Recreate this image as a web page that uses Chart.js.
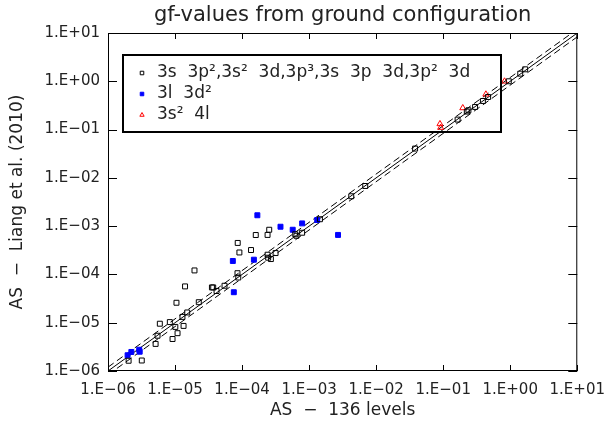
<!DOCTYPE html>
<html>
<head>
<meta charset="utf-8">
<title>gf-values from ground configuration</title>
<script src="https://cdn.jsdelivr.net/npm/chart.js@4.4.0/dist/chart.umd.min.js"></script>
<style>
  body { margin: 0; background: #fff; }
  canvas { display: block; }
</style>
</head>
<body>
<canvas id="gfChart" width="615" height="424"></canvas>
<script>
// axis decades and their labels
const xTicks = [1e-6, 1e-5, 1e-4, 1e-3, 1e-2, 1e-1, 1e0, 1e1];
const xTickLabels = ["1.E−06", "1.E−05", "1.E−04", "1.E−03", "1.E−02", "1.E−01", "1.E+00", "1.E+01"];
const yTicks = [1e-6, 1e-5, 1e-4, 1e-3, 1e-2, 1e-1, 1e0, 1e1];
const yTickLabels = ["1.E−06", "1.E−05", "1.E−04", "1.E−03", "1.E−02", "1.E−01", "1.E+00", "1.E+01"];

// 3s 3p2,3s2 3d,3p3,3s 3p 3d,3p2 3d
const groundX = [2.03e-6, 3.19e-6, 5.13e-6, 5.48e-6, 5.93e-6, 8.36e-6, 9.18e-6, 1.01e-5, 1.09e-5, 1.05e-5,
  1.29e-5, 1.34e-5, 1.41e-5, 1.52e-5, 1.95e-5, 2.26e-5, 3.55e-5, 3.71e-5, 4.16e-5, 5.47e-5,
  8.54e-5, 8.77e-5, 8.61e-5, 9.12e-5, 1.36e-4, 1.60e-4, 2.40e-4, 2.54e-4, 2.40e-4, 2.45e-4,
  2.69e-4, 3.16e-4, 6.21e-4, 6.47e-4, 7.87e-4, 1.45e-3, 4.25e-3, 6.87e-3, 3.81e-2, 0.164,
  0.225, 0.238, 0.299, 0.391, 0.468, 0.951, 1.41, 1.67];
const groundY = [1.63e-6, 1.65e-6, 3.64e-6, 5.38e-6, 9.53e-6, 1.03e-5, 4.60e-6, 8.18e-6, 6.07e-6, 2.59e-5,
  1.32e-5, 8.59e-6, 5.65e-5, 1.63e-5, 1.21e-4, 2.66e-5, 5.38e-5, 5.38e-5, 4.53e-5, 5.83e-5,
  1.06e-4, 8.63e-5, 4.49e-4, 2.85e-4, 3.20e-4, 6.55e-4, 6.58e-4, 8.42e-4, 2.56e-4, 2.22e-4,
  2.08e-4, 2.77e-4, 6.79e-4, 6.32e-4, 7.30e-4, 1.39e-3, 4.16e-3, 6.79e-3, 4.04e-2, 0.161,
  0.236, 0.251, 0.294, 0.391, 0.473, 1.0, 1.44, 1.77];

// 3l 3d2
const d2X = [1.96e-6, 2.23e-6, 2.92e-6, 2.97e-6, 7.28e-5, 7.53e-5, 1.50e-4, 1.69e-4, 3.74e-4, 5.69e-4, 7.87e-4, 1.32e-3, 2.70e-3];
const d2Y = [2.12e-6, 2.48e-6, 2.76e-6, 2.51e-6, 1.90e-4, 4.28e-5, 2.02e-4, 1.68e-3, 9.72e-4, 8.42e-4, 1.14e-3, 1.34e-3, 6.58e-4];

// 3s2 4l
const s4lX = [8.95e-2, 9.16e-2, 0.196, 0.433, 0.822];
const s4lY = [0.131, 0.110, 0.280, 0.538, 1.0];

// y = x and the +/-20% band
const diagX = [1e-6, 1e1];
const diagY = [1e-6, 1e1];
const upperY = [1.2e-6, 12];
const lowerY = [8.33e-7, 8.33];

const seriesLabels = ["3s  3p²,3s²  3d,3p³,3s  3p  3d,3p²  3d", "3l  3d²", "3s²  4l"];

const FONT = "'DejaVu Sans', sans-serif";
const pts = (xs, ys) => xs.map((x, i) => ({ x, y: ys[i] }));

const frameAndLegend = {
  id: "frameAndLegend",
  afterDatasetsDraw(chart) {
    const { ctx, chartArea: a, scales } = chart;
    ctx.save();
    ctx.strokeStyle = "#000";
    ctx.lineWidth = 1;
    ctx.strokeRect(a.left + 0.5, a.top + 0.5, a.right - a.left - 1, a.bottom - a.top - 1);
    ctx.beginPath();
    xTicks.forEach((v) => {
      const px = Math.round(scales.x.getPixelForValue(v)) + 0.5;
      ctx.moveTo(px, a.bottom); ctx.lineTo(px, a.bottom - 6);
      ctx.moveTo(px, a.top); ctx.lineTo(px, a.top + 6);
    });
    yTicks.forEach((v) => {
      const py = Math.round(scales.y.getPixelForValue(v)) + 0.5;
      ctx.moveTo(a.left, py); ctx.lineTo(a.left + 9, py);
      ctx.moveTo(a.right, py); ctx.lineTo(a.right - 9, py);
    });
    ctx.stroke();

    // legend box
    const lx = a.left + 15, ly = a.top + 22;
    ctx.lineWidth = 2;
    ctx.strokeRect(lx, ly, 378, 77);
    ctx.font = "17px " + FONT;
    ctx.textBaseline = "middle";
    chart.data.datasets.slice(0, 3).forEach((ds, i) => {
      const cy = ly + 18 + i * 21;
      ctx.lineWidth = 1;
      ctx.strokeStyle = ds.borderColor;
      ctx.fillStyle = ds.backgroundColor;
      Chart.helpers.drawPoint(ctx, { pointStyle: ds.pointStyle, radius: 2.5, rotation: 0, borderWidth: 1 }, lx + 19, cy);
      ctx.fillStyle = "#222";
      ctx.fillText(ds.label, lx + 34, cy);
    });
    ctx.restore();
  },
};

new Chart(document.getElementById("gfChart"), {
  type: "scatter",
  data: {
    datasets: [
      {
        label: seriesLabels[0],
        data: pts(groundX, groundY),
        pointStyle: "rect",
        radius: 3.5,
        borderWidth: 1,
        borderColor: "#000",
        backgroundColor: "rgba(0,0,0,0)",
      },
      {
        label: seriesLabels[1],
        data: pts(d2X, d2Y),
        pointStyle: "rect",
        radius: 3.5,
        borderWidth: 1,
        borderColor: "#0000ff",
        backgroundColor: "#0000ff",
      },
      {
        label: seriesLabels[2],
        data: pts(s4lX, s4lY),
        pointStyle: "triangle",
        radius: 3.5,
        borderWidth: 1,
        borderColor: "#ff0000",
        backgroundColor: "rgba(0,0,0,0)",
      },
      {
        type: "line",
        data: pts(diagX, diagY),
        borderColor: "#000",
        borderWidth: 1,
        pointRadius: 0,
      },
      {
        type: "line",
        data: pts(diagX, upperY),
        borderColor: "#000",
        borderWidth: 1,
        borderDash: [7, 4],
        pointRadius: 0,
      },
      {
        type: "line",
        data: pts(diagX, lowerY),
        borderColor: "#000",
        borderWidth: 1,
        borderDash: [7, 4],
        pointRadius: 0,
      },
    ],
  },
  options: {
    responsive: false,
    animation: false,
    layout: { padding: { left: 0, right: 29, top: 0, bottom: 0 } },
    plugins: {
      legend: { display: false },
      tooltip: { enabled: false },
      title: {
        display: true,
        fullSize: false,
        text: "gf-values from ground configuration",
        color: "#222",
        font: { family: FONT, size: 21, weight: "normal" },
        padding: { top: 3, bottom: 4.8 },
      },
    },
    scales: {
      x: {
        type: "logarithmic",
        min: 1e-6,
        max: 1e1,
        afterBuildTicks: (s) => { s.ticks = xTicks.map((v) => ({ value: v })); },
        afterFit: (s) => { s.height = 53; },
        grid: { display: false, drawTicks: false },
        border: { display: false },
        ticks: {
          autoSkip: false,
          maxRotation: 0,
          padding: 10,
          color: "#222",
          font: { family: FONT, size: 15 },
          callback: (v, i) => xTickLabels[i],
        },
        title: {
          display: true,
          text: "AS  −  136 levels",
          color: "#222",
          font: { family: FONT, size: 17 },
          padding: { top: 0, bottom: 3 },
        },
      },
      y: {
        type: "logarithmic",
        min: 1e-6,
        max: 1e1,
        afterBuildTicks: (s) => { s.ticks = yTicks.map((v) => ({ value: v })); },
        afterFit: (s) => { s.width = 108; },
        grid: { display: false, drawTicks: false },
        border: { display: false },
        ticks: {
          autoSkip: false,
          padding: 8,
          color: "#222",
          font: { family: FONT, size: 15 },
          callback: (v, i) => yTickLabels[i],
        },
        title: {
          display: true,
          text: "AS  −  Liang et al. (2010)",
          color: "#222",
          font: { family: FONT, size: 17 },
          padding: { top: 7, bottom: 0 },
        },
      },
    },
  },
  plugins: [frameAndLegend],
});
</script>
</body>
</html>
